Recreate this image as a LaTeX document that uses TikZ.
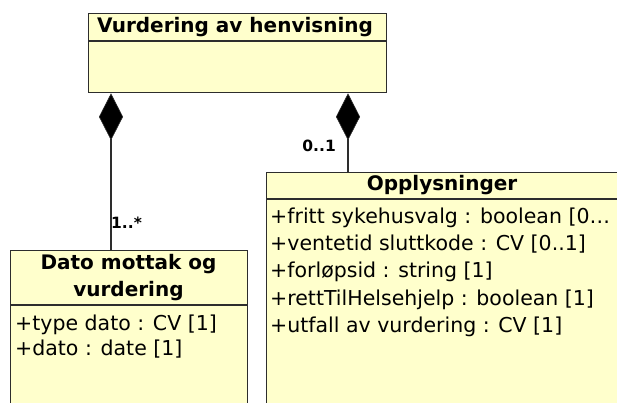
\documentclass[tikz,border=0pt]{standalone}
\usepackage{fontspec}
\setmainfont{DejaVu Sans}
\usetikzlibrary{arrows.meta}
\definecolor{classfill}{RGB}{255,255,204}
\definecolor{classline}{RGB}{45,45,45}
\tikzset{
  classbox/.style={draw=classline, fill=classfill, line width=1.3pt, inner sep=0pt,
    anchor=north west},
  sepline/.style={draw=classline, line width=1.3pt},
  titletext/.style={font=\bfseries\fontsize{20}{27}\selectfont, inner sep=0pt, align=center},
  attrtext/.style={font=\fontsize{20.5}{24}\selectfont, anchor=west, inner sep=0pt},
  multtext/.style={font=\bfseries\fontsize{15.5}{18}\selectfont, inner sep=0pt},
  composition/.style={draw=classline, line width=1.2pt,
    {Diamond[length=47pt,width=24pt,fill=black,line width=0.6pt]}-},
}
\begin{document}
\begin{tikzpicture}[x=1pt,y=-1pt]
\useasboundingbox (0,0) rectangle (617,402);
\clip (0,0) rectangle (617,402);

% class: Vurdering av henvisning
\node[classbox, minimum width=298pt, minimum height=79pt] (vh) at (88,13) {};
\draw[sepline] (vh.west |- 0,41) -- (vh.east |- 0,41);
\node[titletext] (vhtitle) at (235,27) {Vurdering av henvisning};

% class: Dato mottak og vurdering
\node[classbox, minimum width=237pt, minimum height=180pt] (dm) at (10,250) {};
\draw[sepline] (dm.west |- 0,305) -- (dm.east |- 0,305);
\node[titletext] (dmtitle) at (128.5,278) {Dato mottak og\\vurdering};
\node[attrtext] (dma1) at (15,325) {+type dato : CV [1]};
\node[attrtext] (dma2) at (15,349) {+dato : date [1]};

% class: Opplysninger (runs past the right edge)
\node[classbox, minimum width=400pt, minimum height=260pt] (op) at (266,172) {};
\draw[sepline] (op.west |- 0,199) -- (op.east |- 0,199);
\node[titletext] (optitle) at (442,185) {Opplysninger};
\node[attrtext] (opa1) at (270,218) {+fritt sykehusvalg : boolean [0\dots};
\node[attrtext] (opa2) at (270,244) {+ventetid sluttkode : CV [0..1]};
\node[attrtext] (opa3) at (270,272) {+forløpsid : string [1]};
\node[attrtext] (opa4) at (270,300) {+rettTilHelsehjelp : boolean [1]};
\node[attrtext] (opa5) at (270,327) {+utfall av vurdering : CV [1]};

% composition links
\coordinate (cl) at (111,0);
\coordinate (cr) at (348,0);
\draw[composition] (vh.south -| cl) -- (dm.north -| cl);
\draw[composition] (vh.south -| cr) -- (op.north -| cr);

% multiplicities
\node[multtext, anchor=west] (m1) at (111,223) {1..*};
\node[multtext, anchor=east] (m2) at (336,146) {0..1};
\end{tikzpicture}
\end{document}
